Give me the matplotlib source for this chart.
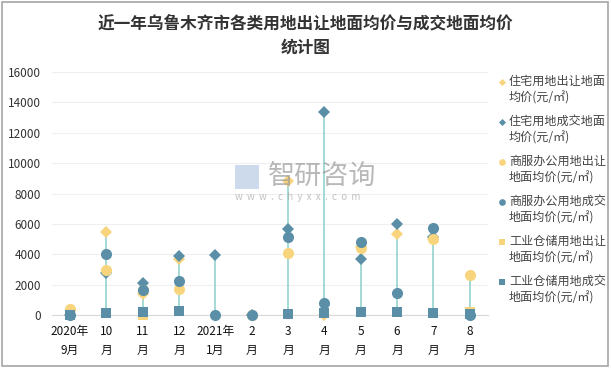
import numpy as np
import matplotlib
matplotlib.use("Agg")
import matplotlib.pyplot as plt
from matplotlib.lines import Line2D
from matplotlib.patches import Rectangle

plt.rcParams['font.family'] = ['Noto Sans CJK SC', 'DejaVu Sans']

nan = np.nan
categories = ['2020年\n9月', '10\n月', '11\n月', '12\n月', '2021年\n1月', '2\n月',
              '3\n月', '4\n月', '5\n月', '6\n月', '7\n月', '8\n月']

res_transfer = [nan, 5500, 1360, 3670, nan, 0, 8850, 0, 4450, 5330, 5000, nan]
res_deal = [0, 2750, 2130, 3890, 3975, 0, 5660, 13390, 3690, 5990, 5150, nan]
comm_transfer = [380, 2950, 1650, 1740, nan, 0, 4060, nan, 4435, nan, 4980, 2640]
comm_deal = [0, 4000, 1650, 2260, 0, 0, 5115, 770, 4830, 1425, 5705, 0]
ind_transfer = [nan, nan, 0, nan, nan, nan, nan, nan, nan, nan, nan, 180]
ind_deal = [0, 150, 200, 285, nan, nan, 80, 110, 220, 220, 150, 60]

series_labels = ['住宅用地出让地面\n均价(元/㎡)', '住宅用地成交地面\n均价(元/㎡)',
                 '商服办公用地出让\n地面均价(元/㎡)', '商服办公用地成交\n地面均价(元/㎡)',
                 '工业仓储用地出让\n地面均价(元/㎡)', '工业仓储用地成交\n地面均价(元/㎡)']

YEL = '#F8D47C'
BLU = '#5A8FA7'
LINE = '#8ACFCB'

fig = plt.figure(figsize=(6.11, 3.68), dpi=100)
fig.patch.set_facecolor('white')
fig.add_artist(Rectangle((0.003, 0.005), 0.992, 0.99, transform=fig.transFigure,
                         fill=False, edgecolor='#A6A6A6', lw=1.2))

ax = fig.add_axes([0.085, 0.144, 0.7136, 0.660])
x = np.arange(len(categories))

all_series = np.array([res_transfer, res_deal, comm_transfer, comm_deal, ind_transfer, ind_deal], dtype=float)
lo = np.nanmin(all_series, axis=0)
hi = np.nanmax(all_series, axis=0)
ax.vlines(x, lo, hi, color=LINE, lw=1.1, zorder=2)

styles = [('D', YEL, 6), ('D', BLU, 6), ('o', YEL, 8), ('o', BLU, 8), ('s', YEL, 7), ('s', BLU, 7)]
for s, (m, c, ms) in zip(all_series, styles):
    ax.plot(x, s, linestyle='none', marker=m, color=c, markersize=ms,
            markeredgewidth=0, clip_on=False, zorder=3)

ax.set_xlim(-0.5, len(categories) - 0.5)
ax.set_ylim(0, 16000)
ax.set_yticks(np.arange(0, 16001, 2000))
ax.set_xticks(x)
ax.set_xticklabels(categories, fontsize=8.5, color='#111111', linespacing=1.6)
ax.tick_params(axis='y', labelsize=8.5, colors='#333333', length=0, pad=8)
ax.tick_params(axis='x', length=0, pad=7)
ax.grid(axis='y', color='#EFEFEF', lw=0.8)
ax.set_axisbelow(True)
for sp in ['top', 'right', 'left']:
    ax.spines[sp].set_visible(False)
ax.spines['bottom'].set_color('#D9D9D9')
ax.spines['bottom'].set_zorder(1)

fig.text(0.5, 0.903, '近一年乌鲁木齐市各类用地出让地面均价与成交地面均价\n统计图',
         ha='center', va='center', fontsize=12, fontweight='bold', color='#333333',
         linespacing=1.4)

# watermark
fig.text(268 / 611, 1 - 176 / 368, '智研咨询', fontsize=19.5, color='#9A9A9A', alpha=0.7,
         ha='left', va='center', zorder=10)
fig.text(235 / 611, 1 - 197 / 368, 'w  w  w  .  c  h  y  x  x  .  c  o  m', fontsize=7,
         color='#A8A8A8', alpha=0.7, ha='left', va='center', zorder=10)
fig.add_artist(Rectangle((235 / 611, 1 - 189 / 368), 24 / 611, 24 / 368, transform=fig.transFigure,
                         facecolor='#B9CBE3', edgecolor='none', alpha=0.7, zorder=10))

# legend
for i, (lab, (m, c, ms)) in enumerate(zip(series_labels, styles)):
    ytop = 82 + 40 * i
    yf = 1 - ytop / 368
    fig.add_artist(Line2D([502 / 611], [yf], marker=m, color=c, markersize=ms * 0.6,
                          markeredgewidth=0, linestyle='none', transform=fig.transFigure))
    fig.text(509 / 611, yf + 7 / 368, lab, fontsize=8.7, color='#444444', ha='left', va='top',
             linespacing=1.35)

fig.savefig('out.png', dpi=100)
